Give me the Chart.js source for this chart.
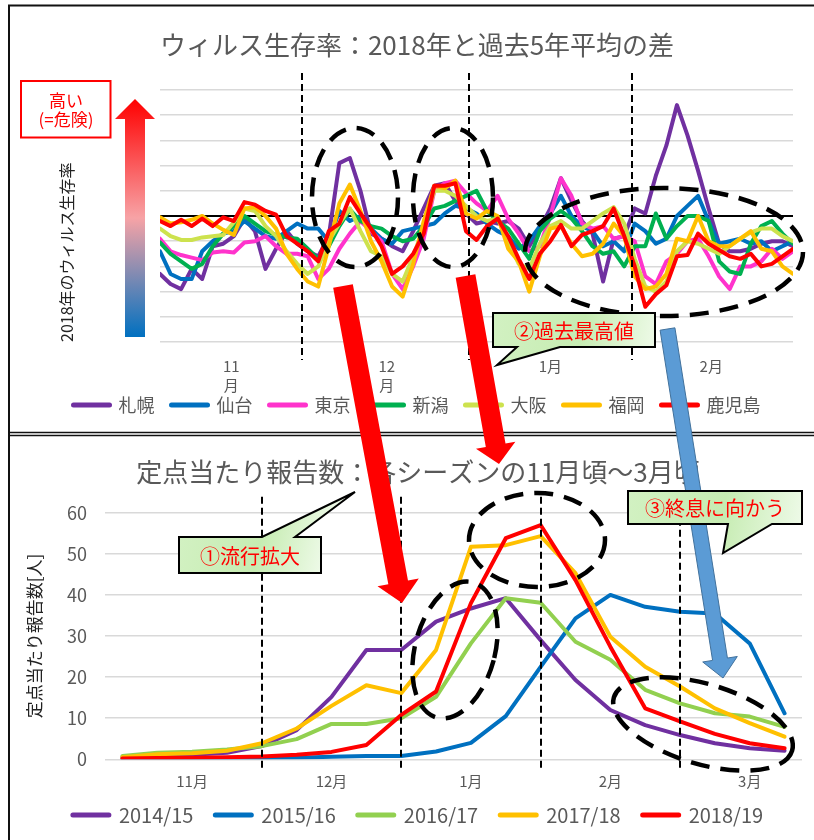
<!DOCTYPE html>
<html lang="ja">
<head>
<meta charset="utf-8">
<title>ウィルス生存率と定点当たり報告数</title>
<script src="https://cdn.jsdelivr.net/npm/chart.js@4.4.1/dist/chart.umd.min.js"></script>
<style>
  html, body { margin: 0; padding: 0; background: #fff; }
  #wrap { position: relative; width: 814px; height: 840px; overflow: hidden; }
  #wrap canvas { position: absolute; left: 0; }
  #cTop { top: 0; }
  #cBottom { top: 433px; }
  #overlay { top: 0; pointer-events: none; }
</style>
</head>
<body>
<div id="wrap">
  <canvas id="cTop" width="814" height="433"></canvas>
  <canvas id="cBottom" width="814" height="407"></canvas>
  <canvas id="overlay" width="814" height="840"></canvas>
</div>
<script>
const FONT = "'Noto Sans CJK JP', 'Noto Sans', sans-serif";
Chart.defaults.font.family = FONT;
Chart.defaults.color = '#595959';

// ---------- upper chart: survival rate, 2018 minus 5-year average (day index from 4 Nov) ----------
const DAYS = [0,2,4,6,8,10,12,14,16,18,20,22,24,26,28,30,32,34,36,38,40,42,44,46,48,50,52,54,56,58,
              60,62,64,66,68,70,72,74,76,78,80,82,84,86,88,90,92,94,96,98,100,102,104,106,108,110,112,114,116,118,120];
const CITIES = ['札幌', '仙台', '東京', '新潟', '大阪', '福岡', '鹿児島'];
const CITY_COLORS = ['#7030A0', '#0070C0', '#FF33CC', '#00B050', '#CDE24E', '#FFC000', '#FF0000'];

const SAPPORO = [-2.3,-2.7,-2.9,-2.1,-2.5,-1.2,-1.1,-0.8,-0.1,-0.6,
  -2.1,-1.3,-0.6,-1.1,-1.4,-1.6,-0.8,2.1,2.3,1.0,
  -0.7,-0.9,-1.2,-1.4,-0.6,0.3,1.2,1.3,0.6,0.1,
  -0.3,-0.2,-0.3,-0.2,-0.5,-1.2,-0.5,0.3,1.5,0.6,
  -0.2,-0.7,-2.6,-0.9,-0.8,0.3,0.1,1.6,2.8,4.4,
  3.2,1.8,0.3,-1.1,-1.4,-1.4,-1.3,-1.1,-1.0,-1.0,
  -1.2];
const SENDAI = [-1.4,-2.3,-2.5,-2.5,-1.4,-1.0,-0.7,-0.6,-0.2,-0.5,
  -0.8,-0.9,-0.6,-0.3,-0.5,-0.5,-1.0,0.2,-0.2,0.0,
  -0.5,-0.9,-1.1,-0.6,-0.5,-0.4,-0.3,0.1,0.4,0.3,
  0.1,-0.3,-0.6,-0.8,-1.3,-1.0,-0.4,0.1,0.8,0.0,
  -0.4,-0.6,-1.2,-1.0,-1.4,-0.3,-0.6,-1.1,-0.9,0.0,
  0.4,0.8,-0.2,-1.1,-1.0,-0.9,-1.1,-1.0,-1.4,-1.2,
  -1.0];
const TOKYO = [-0.9,-1.4,-1.55,-1.65,-1.75,-1.45,-1.4,-1.45,-1.05,-1.0,
  -0.8,-1.2,-1.5,-1.5,-1.6,-2.5,-2.1,-1.3,-0.7,-0.2,
  -0.6,-1.0,-2.3,-2.9,-2.0,-0.9,1.0,1.3,1.4,0.9,
  0.5,0.2,0.8,-0.1,-0.7,-1.4,-1.2,0.0,1.5,0.8,
  -0.3,-0.5,-0.4,-0.9,-0.8,-1.0,-2.4,-2.7,-1.8,-1.5,
  -1.0,-0.9,-1.6,-2.4,-2.9,-2.0,-2.0,-1.8,-1.3,-1.7,
  -1.4];
const NIIGATA = [-1.05,-1.5,-1.8,-2.1,-1.9,-1.2,-0.7,-0.4,0.0,-0.3,
  -0.6,-0.75,-0.85,-0.9,-1.3,-1.7,-1.2,-0.4,0.25,-0.2,
  -0.4,-0.5,-0.8,-1.0,-0.9,-0.4,0.3,0.4,0.6,0.8,
  1.0,0.2,-0.2,-0.5,-1.1,-1.7,-0.6,-0.1,0.2,-0.1,
  -0.6,-1.2,-1.5,-1.4,-2.0,-1.2,-1.2,0.1,-0.9,-0.4,
  0.0,0.0,-0.2,-1.8,-2.2,-2.3,-1.1,-0.4,-0.2,-0.7,
  -1.1];
const OSAKA = [-0.5,-0.8,-0.95,-0.95,-0.85,-0.8,-0.75,-0.25,0.3,0.2,
  -0.4,-0.8,-1.4,-1.9,-2.3,-2.0,-1.0,-0.3,0.3,-0.6,
  -1.4,-1.6,-2.3,-2.6,-1.6,-0.4,1.0,1.0,0.8,0.4,
  0.0,-0.2,-0.1,-1.0,-1.9,-2.1,-1.1,-0.4,-0.2,-0.5,
  -0.5,-0.2,0.1,0.35,-0.3,-1.7,-2.8,-3.0,-2.6,-1.4,
  -1.0,-1.1,-1.3,-1.5,-1.2,-0.9,-0.65,-0.5,-0.5,-0.8,
  -1.0];
const FUKUOKA = [-0.05,-0.3,-0.25,-0.15,0.0,-0.3,-0.55,-0.75,0.3,0.35,
  0.0,-0.5,-1.5,-2.1,-2.6,-2.8,-1.2,0.5,1.25,0.2,
  -1.0,-1.8,-2.8,-3.2,-1.9,-0.2,1.2,1.1,1.4,0.1,
  -0.1,0.2,0.0,-1.3,-1.8,-3.0,-1.6,-0.5,-0.4,-1.1,
  -1.6,-1.5,-1.1,-0.3,-0.8,-2.4,-2.9,-2.8,-2.3,-0.9,
  -1.0,0.0,-1.0,-1.2,-1.2,-0.9,-0.6,-1.3,-1.4,-2.0,
  -2.3];
const KAGOSHIMA = [-0.2,-0.4,-0.15,-0.4,-0.1,-0.4,-0.05,-0.2,0.55,0.45,
  0.2,0.05,-0.8,-1.1,-1.4,-1.8,-0.6,-0.3,0.75,0.1,
  -0.5,-1.2,-2.3,-2.0,-1.5,-0.7,1.2,1.2,1.3,-0.6,
  -0.95,-0.4,-0.1,-0.8,-1.7,-2.5,-1.5,-1.0,-0.35,-1.2,
  -0.75,-0.6,-0.4,0.3,-0.8,-2.0,-3.6,-3.1,-2.75,-1.6,
  -1.55,-0.7,-1.1,-1.35,-1.6,-1.7,-1.5,-2.0,-1.9,-1.6,
  -1.3];
const CITY_SERIES = [SAPPORO, SENDAI, TOKYO, NIIGATA, OSAKA, FUKUOKA, KAGOSHIMA];

const TOP_MONTH_POS = [13.5, 43, 74, 104.5];
const TOP_MONTH_LABELS = [['11', '月'], ['12', '月'], '1月', '2月'];
const TOP_MONTH_BOUNDS = [27, 58.5, 89.5];

// ---------- lower chart: reports per sentinel site, four periods per month ----------
const PERIOD_LABELS = ['', '', '11月', '', '', '', '12月', '', '', '', '1月', '', '', '', '2月', '', '', '', '3月', ''];
const SEASONS = ['2014/15', '2015/16', '2016/17', '2017/18', '2018/19'];
const SEASON_COLORS = ['#7030A0', '#0070C0', '#92D050', '#FFC000', '#FF0000'];
const S2014 = [0.5, 1.0, 1.1, 1.6, 3.2, 7.1, 15.2, 26.6, 26.6, 33.5, 36.7, 39.2, 29.0, 19.3, 12.0, 8.3, 5.9, 3.9, 2.7, 2.1];
const S2015 = [0.1, 0.1, 0.2, 0.2, 0.3, 0.4, 0.6, 0.8, 0.8, 1.9, 4.0, 10.5, 22.5, 34.3, 40.0, 37.1, 35.9, 35.5, 28.2, 11.2];
const S2016 = [0.8, 1.6, 1.85, 2.4, 3.2, 4.9, 8.6, 8.6, 10.0, 15.2, 28.2, 39.2, 38.1, 28.6, 24.2, 16.9, 13.6, 11.2, 10.4, 7.9];
const S2017 = [0.5, 1.2, 1.5, 2.1, 3.9, 7.5, 13.0, 18.0, 16.1, 26.6, 51.7, 52.1, 54.3, 45.3, 29.8, 22.5, 17.7, 12.4, 8.8, 5.5];
const S2018 = [0.2, 0.3, 0.4, 0.5, 0.7, 1.1, 1.8, 3.5, 10.8, 16.5, 38.0, 53.8, 57.0, 43.6, 27.4, 12.4, 9.2, 6.2, 3.9, 2.7];
const SEASON_SERIES = [S2014, S2015, S2016, S2017, S2018];
const BOTTOM_MONTH_BOUNDS = [4, 8, 12, 16];

// vertical dashed separators between months
const monthDashes = {
  id: 'monthDashes',
  afterDatasetsDraw(chart, args, opts) {
    const { ctx, chartArea, scales } = chart;
    ctx.save();
    ctx.strokeStyle = '#000';
    ctx.lineWidth = 2;
    ctx.setLineDash([7, 4]);
    opts.bounds.forEach(v => {
      const px = Math.round(scales.x.getPixelForValue(v));
      ctx.beginPath();
      ctx.moveTo(px, chartArea.top - opts.above);
      ctx.lineTo(px, chartArea.bottom + opts.below);
      ctx.stroke();
    });
    ctx.restore();
  }
};

// the month axis is given a fixed height so the legend sits close under it;
// its labels are allowed to run past that box
function fixAxisHeight(h) {
  return s => {
    s.height = h;
    s._computeLabelArea = () => undefined;
  };
}

function legendLabels(chart) {
  return Chart.defaults.plugins.legend.labels.generateLabels(chart).map(item => {
    const ds = chart.data.datasets[item.datasetIndex];
    return Object.assign(item, { strokeStyle: ds.borderColor, fillStyle: ds.borderColor, lineWidth: 5, lineCap: 'round' });
  });
}

function lineDataset(label, values, color, i, n, xs) {
  return {
    label,
    data: xs ? values.map((v, k) => ({ x: xs[k], y: v })) : values,
    borderColor: color,
    backgroundColor: color,
    borderWidth: 4,
    borderJoinStyle: 'round',
    borderCapStyle: 'round',
    pointRadius: 0,
    pointHoverRadius: 0,
    tension: 0,
    order: n - 1 - i
  };
}

// ---------- upper chart ----------
new Chart(document.getElementById('cTop'), {
  type: 'line',
  data: {
    datasets: CITIES.map((c, i) => lineDataset(c, CITY_SERIES[i], CITY_COLORS[i], i, CITIES.length, DAYS))
  },
  options: {
    responsive: false,
    animation: false,
    devicePixelRatio: 1,
    events: [],
    layout: { padding: { top: 29.4, left: 41, right: 21, bottom: 9 } },
    plugins: {
      title: {
        display: true,
        text: 'ウィルス生存率：2018年と過去5年平均の差',
        color: '#595959',
        font: { size: 26, weight: 'normal' },
        padding: { top: 0, bottom: 29.4 }
      },
      legend: {
        position: 'bottom',
        labels: {
          usePointStyle: true,
          pointStyle: 'line',
          pointStyleWidth: 36,
          font: { size: 18 },
          color: '#595959',
          padding: 17,
          generateLabels: legendLabels,
          sort: (a, b) => a.datasetIndex - b.datasetIndex
        }
      },
      tooltip: { enabled: false },
      monthDashes: { bounds: TOP_MONTH_BOUNDS, above: 17, below: 18 }
    },
    scales: {
      x: {
        type: 'linear',
        min: 0,
        max: 120,
        grid: { display: false, drawTicks: false },
        border: { display: false },
        afterBuildTicks: s => { s.ticks = TOP_MONTH_POS.map(v => ({ value: v })); },
        afterFit: fixAxisHeight(37),
        ticks: {
          autoSkip: false,
          maxRotation: 0,
          padding: 15,
          color: '#595959',
          font: { size: 15, lineHeight: 1.25 },
          callback: (v, i) => TOP_MONTH_LABELS[i]
        }
      },
      y: {
        min: -5,
        max: 5,
        afterFit: s => { s.width = 119; },
        border: { display: false },
        grid: {
          drawTicks: false,
          color: c => (c.tick.value === 0 ? '#000000' : '#D9D9D9'),
          lineWidth: c => (c.tick.value === 0 ? 2 : 1.5)
        },
        ticks: { stepSize: 1, display: false },
        title: {
          display: true,
          text: '2018年のウィルス生存率',
          align: 'start',
          color: '#222222',
          font: { size: 16 },
          padding: { top: 16.4, bottom: 0 }
        }
      }
    }
  },
  plugins: [monthDashes]
});

// ---------- lower chart ----------
new Chart(document.getElementById('cBottom'), {
  type: 'line',
  data: {
    labels: PERIOD_LABELS,
    datasets: SEASONS.map((s, i) => lineDataset(s, SEASON_SERIES[i], SEASON_COLORS[i], i, SEASONS.length))
  },
  options: {
    responsive: false,
    animation: false,
    devicePixelRatio: 1,
    events: [],
    layout: { padding: { top: 23.4, left: 34, right: 12, bottom: 5 } },
    plugins: {
      title: {
        display: true,
        text: '定点当たり報告数：各シーズンの11月頃～3月頃',
        color: '#595959',
        font: { size: 26, weight: 'normal' },
        padding: { top: 0, bottom: 25.1 }
      },
      legend: {
        position: 'bottom',
        labels: {
          usePointStyle: true,
          pointStyle: 'line',
          pointStyleWidth: 36,
          font: { size: 20 },
          color: '#595959',
          padding: 22,
          generateLabels: legendLabels,
          sort: (a, b) => a.datasetIndex - b.datasetIndex
        }
      },
      tooltip: { enabled: false },
      monthDashes: { bounds: BOTTOM_MONTH_BOUNDS, above: 16, below: 9 }
    },
    scales: {
      x: {
        offset: true,
        grid: { display: false, drawTicks: false },
        border: { display: false },
        afterFit: fixAxisHeight(23.7),
        ticks: {
          autoSkip: false,
          maxRotation: 0,
          padding: 12.7,
          color: '#595959',
          font: { size: 15 },
          callback: (v, i) => PERIOD_LABELS[i]
        }
      },
      y: {
        min: 0,
        max: 60,
        afterFit: s => { s.width = 71; },
        border: { display: false },
        grid: { drawTicks: false, color: '#D9D9D9', lineWidth: 1.5 },
        ticks: { stepSize: 10, padding: 18, color: '#595959', font: { size: 18 } },
        title: {
          display: true,
          text: '定点当たり報告数[人]',
          color: '#222222',
          font: { size: 17 },
          padding: { top: -9.2, bottom: 0 }
        }
      }
    }
  },
  plugins: [monthDashes]
});

// ---------- frame, notes, arrows and callouts ----------
(function drawNotes() {
  const ctx = document.getElementById('overlay').getContext('2d');

  // panel frame
  ctx.strokeStyle = '#111';
  ctx.lineWidth = 2;
  ctx.beginPath();
  ctx.moveTo(9, 840); ctx.lineTo(9, 5.5); ctx.lineTo(814, 5.5);
  ctx.stroke();
  ctx.lineWidth = 1.5;
  ctx.beginPath(); ctx.moveTo(9, 432.5); ctx.lineTo(814, 432.5); ctx.stroke();
  ctx.beginPath(); ctx.moveTo(9, 435.5); ctx.lineTo(814, 435.5); ctx.stroke();

  // "high (= danger)" note
  ctx.fillStyle = '#fff';
  ctx.fillRect(21, 81, 89.5, 56.5);
  ctx.strokeStyle = '#FF0000';
  ctx.lineWidth = 2;
  ctx.strokeRect(21, 81, 89.5, 56.5);
  ctx.fillStyle = '#FF0000';
  ctx.font = "17px " + FONT;
  ctx.textAlign = 'center';
  ctx.textBaseline = 'middle';
  ctx.fillText('高い', 66, 101);
  ctx.fillText('(=危険)', 66, 120);

  // colour scale arrow beside the upper axis
  const g = ctx.createLinearGradient(0, 99, 0, 337);
  g.addColorStop(0, '#FF0000');
  g.addColorStop(0.5, '#F7A3A6');
  g.addColorStop(1, '#0070C0');
  ctx.fillStyle = g;
  ctx.beginPath();
  ctx.moveTo(135, 99); ctx.lineTo(155, 119); ctx.lineTo(145, 119); ctx.lineTo(145, 337);
  ctx.lineTo(125, 337); ctx.lineTo(125, 119); ctx.lineTo(115, 119);
  ctx.closePath();
  ctx.fill();

  // dashed ellipses
  const ellipses = [
    [355, 197.5, 43, 69.5, 0],
    [453, 197.5, 40, 69.5, 0],
    [664, 252, 139, 64, 0],
    [455, 650, 40, 70, 0.26],
    [537, 540, 68, 47, 0],
    [703, 724, 93, 40, 0.29]
  ];
  ctx.save();
  ctx.strokeStyle = '#000';
  ctx.lineWidth = 4.5;
  ctx.setLineDash([19, 11]);
  ellipses.forEach(([cx, cy, rx, ry, rot]) => {
    ctx.beginPath();
    ctx.ellipse(cx, cy, rx, ry, rot, 0, Math.PI * 2);
    ctx.stroke();
  });
  ctx.restore();

  // block arrows
  function arrow(x1, y1, x2, y2, shaftW, headW, headL, fill, stroke) {
    const len = Math.hypot(x2 - x1, y2 - y1);
    const ux = (x2 - x1) / len, uy = (y2 - y1) / len;
    const nx = -uy, ny = ux;
    const bx = x2 - ux * headL, by = y2 - uy * headL;
    const p = [
      [x1 + nx * shaftW / 2, y1 + ny * shaftW / 2],
      [bx + nx * shaftW / 2, by + ny * shaftW / 2],
      [bx + nx * headW / 2, by + ny * headW / 2],
      [x2, y2],
      [bx - nx * headW / 2, by - ny * headW / 2],
      [bx - nx * shaftW / 2, by - ny * shaftW / 2],
      [x1 - nx * shaftW / 2, y1 - ny * shaftW / 2]
    ];
    ctx.beginPath();
    p.forEach(([x, y], k) => (k ? ctx.lineTo(x, y) : ctx.moveTo(x, y)));
    ctx.closePath();
    ctx.fillStyle = fill;
    ctx.fill();
    if (stroke) { ctx.strokeStyle = stroke; ctx.lineWidth = 1; ctx.stroke(); }
  }
  arrow(343, 286, 402, 603, 20, 42, 21, '#FF0000');
  arrow(465.5, 276, 499, 464, 20, 40, 19, '#FF0000');
  arrow(667.5, 329, 723, 678, 15, 35, 19, '#5B9BD5', '#41719C');

  // callouts
  function callout(points, box, text) {
    const [x0, y0, x1, y1] = box;
    const gr = ctx.createLinearGradient(x0, y0, x1, y1);
    gr.addColorStop(0, '#D2F1C2');
    gr.addColorStop(0.55, '#C6ECB2');
    gr.addColorStop(1, '#EEFAE8');
    ctx.beginPath();
    points.forEach(([x, y], k) => (k ? ctx.lineTo(x, y) : ctx.moveTo(x, y)));
    ctx.closePath();
    ctx.fillStyle = gr;
    ctx.fill();
    ctx.strokeStyle = '#000';
    ctx.lineWidth = 2;
    ctx.lineJoin = 'miter';
    ctx.stroke();
    ctx.fillStyle = '#FF0000';
    ctx.font = "20px " + FONT;
    ctx.textAlign = 'center';
    ctx.textBaseline = 'middle';
    ctx.fillText(text, (x0 + x1) / 2, (y0 + y1) / 2 + 1);
  }
  callout([[493, 313], [655, 313], [655, 347], [560, 347], [497, 365], [517, 347], [493, 347]],
          [493, 313, 655, 347], '②過去最高値');
  callout([[179, 537], [262, 537], [355, 492], [295, 537], [321, 537], [321, 573], [179, 573]],
          [179, 537, 321, 573], '①流行拡大');
  callout([[628, 491], [802, 491], [802, 524], [772, 524], [723, 553], [728, 524], [628, 524]],
          [628, 491, 802, 524], '③終息に向かう');
})();
</script>
</body>
</html>
